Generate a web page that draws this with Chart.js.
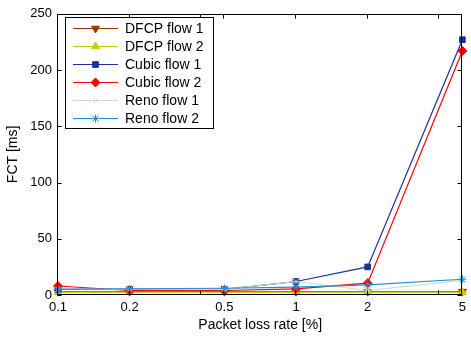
<!DOCTYPE html>
<html>
<head>
<meta charset="utf-8">
<script src="https://cdn.jsdelivr.net/npm/chart.js@4.4.0/dist/chart.umd.min.js"></script>
<style>
  html, body { margin: 0; padding: 0; background: #fff; }
  #wrap { width: 471px; height: 341px; }
</style>
</head>
<body>
<div id="wrap"><canvas id="fct"></canvas></div>
<script>
// loss rates [%]
const lossRates = [0.1, 0.2, 0.5, 1, 2, 5];
const xTickMarks = [0.1, 0.2, 0.4, 0.5, 1, 2, 4, 5];
const yTicks = [0, 50, 100, 150, 200, 250];

// FCT [ms]
const dfcpFlow1 = [3, 3, 3, 3, 3, 3];
const dfcpFlow2 = [2.5, 2.5, 2.5, 2.5, 2.5, 2.5];
const cubicFlow1 = [5, 5, 5, 12, 25, 227];
const cubicFlow2 = [8, 4, 4, 5.5, 10.5, 217];
const renoFlow1 = [5, 5, 5, 12, 4, 13];
const renoFlow2 = [5, 5.5, 6, 7, 9, 14];

const series = [
  { label: 'DFCP flow 1', data: dfcpFlow1, color: '#993300', style: 'triangle', rot: 180, r: 4.5 },
  { label: 'DFCP flow 2', data: dfcpFlow2, color: '#c8c800', style: 'triangle', rot: 0, r: 4.5 },
  { label: 'Cubic flow 1', data: cubicFlow1, color: '#1a3399', style: 'rect', rot: 0, r: 4 },
  { label: 'Cubic flow 2', data: cubicFlow2, color: '#ff0000', style: 'rectRot', rot: 0, r: 4.5 },
  { label: 'Reno flow 1', data: renoFlow1, color: '#c4e0cc', style: 'crossRot', rot: 0, r: 3.5 },
  { label: 'Reno flow 2', data: renoFlow2, color: '#1f8fd6', style: 'star', rot: 0, r: 4 }
];

// box, inward ticks and legend like matlab
const matlabFrame = {
  id: 'matlabFrame',
  afterDraw(chart) {
    const { ctx, chartArea: a, scales } = chart;
    const L = Math.round(a.left) - 0.5, R = Math.round(a.right) - 0.5;
    const T = Math.round(a.top) + 0.5, B = Math.round(a.bottom) - 0.5;
    ctx.save();
    ctx.strokeStyle = '#000';
    ctx.lineWidth = 1;
    ctx.strokeRect(L, T, R - L, B - T);
    ctx.beginPath();
    xTickMarks.forEach(v => {
      const x = Math.round(scales.x.getPixelForValue(v)) - 0.5;
      ctx.moveTo(x, B); ctx.lineTo(x, B - 4);
      ctx.moveTo(x, T); ctx.lineTo(x, T + 4);
    });
    yTicks.forEach(v => {
      const y = Math.round(scales.y.getPixelForValue(v)) + 0.5;
      ctx.moveTo(L, y); ctx.lineTo(L + 4, y);
      ctx.moveTo(R, y); ctx.lineTo(R - 4, y);
    });
    ctx.stroke();

    // legend
    const lx = 65.5, ly = 17.5, lw = 148, lh = 111;
    ctx.fillStyle = '#fff';
    ctx.fillRect(lx, ly, lw, lh);
    ctx.strokeRect(lx, ly, lw, lh);
    ctx.font = '14px "Liberation Sans", Arial, sans-serif';
    ctx.textBaseline = 'middle';
    series.forEach((s, i) => {
      const y = 28.5 + i * 18;
      ctx.strokeStyle = s.color;
      ctx.fillStyle = s.color;
      ctx.lineWidth = 1;
      ctx.beginPath();
      ctx.moveTo(73, y); ctx.lineTo(118, y);
      ctx.stroke();
      Chart.helpers.drawPoint(ctx, { pointStyle: s.style, radius: s.r, rotation: s.rot, borderWidth: 1 }, 95.5, y);
      ctx.fillStyle = '#000';
      ctx.fillText(s.label, 125, y + 0.5);
    });
    ctx.restore();
  }
};

new Chart(document.getElementById('fct'), {
  type: 'line',
  data: {
    labels: lossRates,
    datasets: series.map((s, i) => ({
      label: s.label,
      data: lossRates.map((x, j) => ({ x: x, y: s.data[j] })),
      borderColor: s.color,
      backgroundColor: s.color,
      borderWidth: 1.2,
      pointStyle: s.style,
      pointRotation: s.rot,
      pointRadius: s.r,
      pointBorderWidth: 1,
      pointBorderColor: s.color,
      pointBackgroundColor: s.color,
      tension: 0,
      fill: false,
      clip: false,
      order: series.length - i
    }))
  },
  options: {
    responsive: true,
    maintainAspectRatio: false,
    animation: false,
    layout: { padding: { top: 10, right: 5, left: 0, bottom: 0 } },
    plugins: { legend: { display: false }, tooltip: { enabled: false } },
    scales: {
      x: {
        type: 'logarithmic',
        min: 0.1,
        max: 5,
        grid: { display: false, drawTicks: false },
        border: { display: false },
        afterBuildTicks: sc => { sc.ticks = lossRates.map(v => ({ value: v })); },
        afterFit: sc => { sc.height = 46; },
        ticks: {
          color: '#000',
          padding: 5,
          maxRotation: 0,
          autoSkip: false,
          font: { family: '"Liberation Sans", Arial, sans-serif', size: 13 },
          callback: v => String(v)
        },
        title: {
          display: true,
          text: 'Packet loss rate [%]',
          color: '#000',
          padding: { top: 0, bottom: 7 },
          font: { family: '"Liberation Sans", Arial, sans-serif', size: 14 }
        }
      },
      y: {
        min: 0,
        max: 250,
        grid: { display: false, drawTicks: false },
        border: { display: false },
        afterBuildTicks: sc => { sc.ticks = yTicks.map(v => ({ value: v })); },
        afterFit: sc => { sc.width = 58; },
        ticks: {
          color: '#000',
          padding: 6,
          font: { family: '"Liberation Sans", Arial, sans-serif', size: 13 }
        },
        title: {
          display: true,
          text: 'FCT [ms]',
          color: '#000',
          padding: { top: 5, bottom: 0 },
          font: { family: '"Liberation Sans", Arial, sans-serif', size: 14 }
        }
      }
    }
  },
  plugins: [matlabFrame]
});
</script>
</body>
</html>
